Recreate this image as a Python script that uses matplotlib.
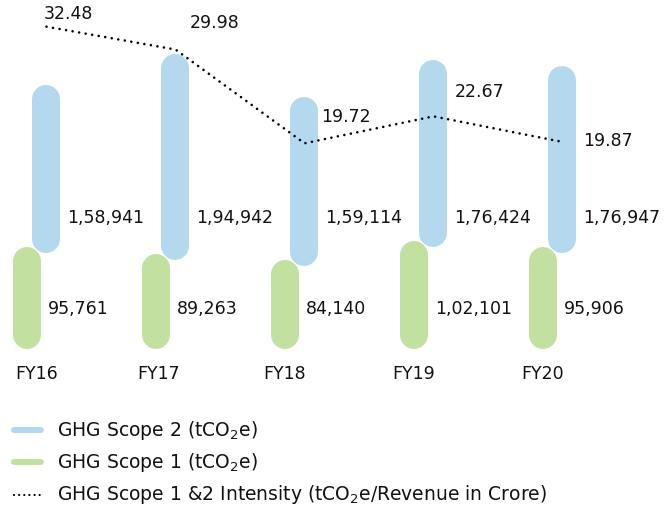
import matplotlib
matplotlib.use("Agg")

import matplotlib.pyplot as plt
import matplotlib.patheffects as pe
from matplotlib import transforms
from matplotlib.lines import Line2D

# ── Data ──────────────────────────────────────────────────────────────
years     = ["FY16", "FY17", "FY18", "FY19", "FY20"]
scope1    = [95761, 89263, 84140, 102101, 95906]        # tCO2e
scope2    = [158941, 194942, 159114, 176424, 176947]    # tCO2e
intensity = [32.48, 29.98, 19.72, 22.67, 19.87]         # tCO2e / Revenue in Crore

# label nudges for the intensity values (points, relative to the line vertex)
intensity_offsets = [(-1.8, 8.8), (10, 19), (12, 19.3), (15.5, 17.6), (15, 0.4)]
# small horizontal nudges for the year labels (pixels)
year_dx = [10, 3, 0, 0, 0]

BLUE  = "#B4D9EE"
GREEN = "#C2E1A0"
TEXT  = "#111111"

W, H, DPI = 667, 508, 100
STEP_PX   = 129      # distance between years
FIRST_PX  = 27       # centre of first green bar
BASE_PX   = 159      # bottom of the bars, from figure bottom
PX_PER_T  = 0.00106  # bar length in pixels per tonne
BAR_PX    = 28       # bar thickness
GAP_PX    = 6        # scope 2 pill starts this far below the scope 1 top
BLUE_DX   = 19.5 / STEP_PX
DOTS      = (0, (0.01, 2.5))

plt.rcParams["font.family"] = ["DejaVu Sans"]
plt.rcParams["mathtext.fontset"] = "dejavusans"


def indian_format(n):
    # 158941 -> 1,58,941
    s = str(int(n))
    if len(s) <= 3:
        return s
    head, tail = s[:-3], s[-3:]
    groups = []
    while len(head) > 2:
        groups.insert(0, head[-2:])
        head = head[:-2]
    if head:
        groups.insert(0, head)
    return ",".join(groups + [tail])


fig = plt.figure(figsize=(W / DPI, H / DPI), dpi=DPI)
ax = fig.add_axes([0, 0, 1, 1])
ax.set_xlim(-FIRST_PX / STEP_PX, (W - FIRST_PX) / STEP_PX)
ax.set_ylim(-BASE_PX / PX_PER_T, (H - BASE_PX) / PX_PER_T)
ax.axis("off")

lw_pt = BAR_PX * 72 / DPI
r_t   = (BAR_PX / 2) / PX_PER_T   # cap radius in tonnes
gap_t = GAP_PX / PX_PER_T

x_green = list(range(len(years)))
x_blue  = [x + BLUE_DX for x in x_green]

# ── Pill bars: round-capped thick lines ──────────────────────────────
for xg, xb, v1, v2 in zip(x_green, x_blue, scope1, scope2):
    b0 = v1 - gap_t
    ax.plot([xb, xb], [b0 + r_t, b0 + v2 - r_t], color=BLUE, lw=lw_pt,
            solid_capstyle="round", zorder=2)
    ax.plot([xg, xg], [r_t, v1 - r_t], color=GREEN, lw=lw_pt,
            solid_capstyle="round", zorder=3,
            path_effects=[pe.Stroke(linewidth=lw_pt + 1.5, foreground="white"),
                          pe.Normal()])

# value labels sit on fixed rows
row = transforms.blended_transform_factory(ax.transData, fig.transFigure)
lab_dx = 21 / STEP_PX
for xg, xb, v1, v2, yr, ydx in zip(x_green, x_blue, scope1, scope2, years, year_dx):
    ax.text(xb + lab_dx, 1 - 218 / H, indian_format(v2), transform=row,
            ha="left", va="center", fontsize=12.5, color=TEXT)
    ax.text(xg + lab_dx, 1 - 309 / H, indian_format(v1), transform=row,
            ha="left", va="center", fontsize=12.5, color=TEXT)
    ax.text(xg + ydx / STEP_PX, 1 - 374 / H, yr, transform=row,
            ha="center", va="center", fontsize=12.5, color=TEXT)

# ── Intensity line on its own scale ──────────────────────────────────
ax2 = ax.twinx()
ax2.set_ylim(-20.18, 35.40)
ax2.axis("off")
ax2.plot(x_blue, intensity, color="black", lw=1.9,
         linestyle=DOTS, dash_capstyle="round", zorder=4)
for xb, v, (dx, dy) in zip(x_blue, intensity, intensity_offsets):
    ax2.annotate(f"{v:.2f}", xy=(xb, v), xytext=(dx, dy),
                 textcoords="offset points", ha="left", va="center",
                 fontsize=12.5, color=TEXT)

# ── Legend, drawn by hand ────────────────────────────────────────────
leg_items = [
    (dict(color=BLUE, lw=6 * 72 / DPI, solid_capstyle="round"),
     "GHG Scope 2 (tCO$_2$e)", 430),
    (dict(color=GREEN, lw=6 * 72 / DPI, solid_capstyle="round"),
     "GHG Scope 1 (tCO$_2$e)", 462),
    (dict(color="black", lw=1.6, linestyle=(0, (0.01, 2.3)), dash_capstyle="round"),
     "GHG Scope 1 &2 Intensity (tCO$_2$e/Revenue in Crore)", 495),
]
for style, label, y_px in leg_items:
    yf = 1 - y_px / H
    fig.add_artist(Line2D([14 / W, 41 / W], [yf, yf],
                          transform=fig.transFigure, **style))
    fig.text(57 / W, yf, label, ha="left", va="center",
             fontsize=13.5, color=TEXT)

fig.savefig("out.png", dpi=DPI, facecolor="white")
